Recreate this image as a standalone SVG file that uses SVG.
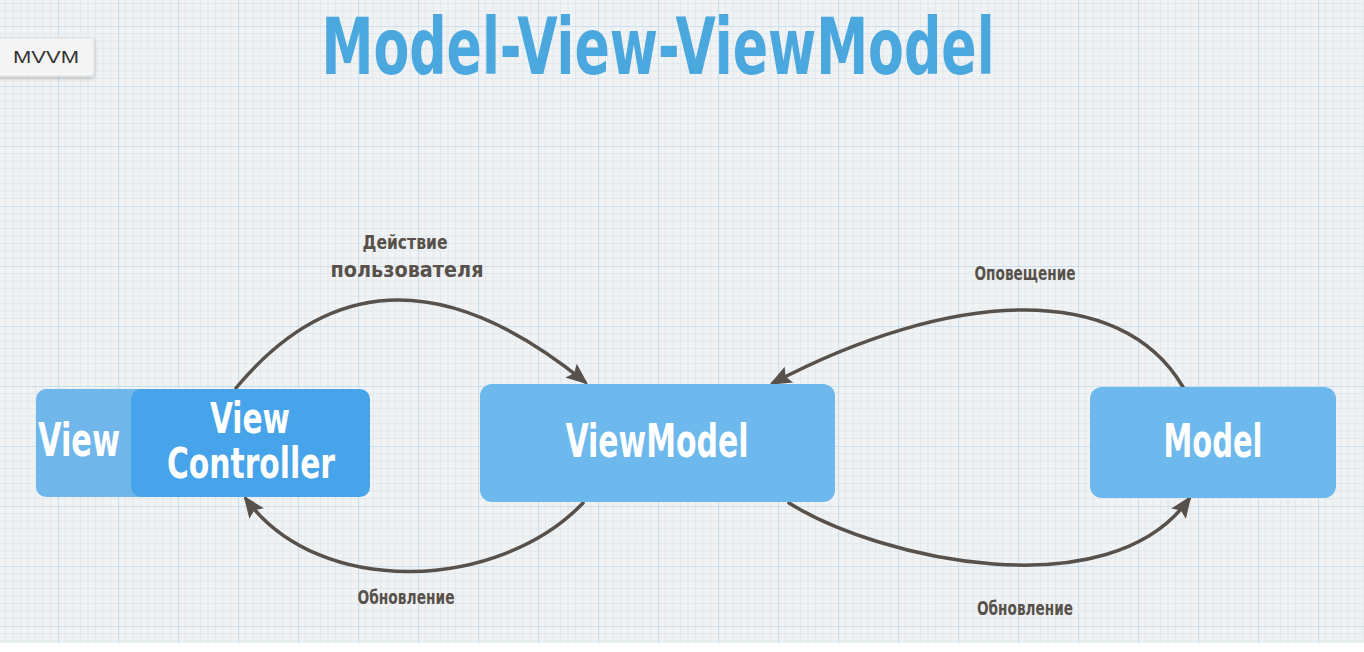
<svg xmlns="http://www.w3.org/2000/svg" width="1364" height="652" viewBox="0 0 1364 652">
  <style>
    .node-text { font-family: "Liberation Sans Narrow", "DejaVu Sans Condensed", "Liberation Sans", sans-serif; font-weight: bold; fill: #ffffff; text-anchor: middle; }
    .label { font-family: "Liberation Sans Narrow", "DejaVu Sans Condensed", "Liberation Sans", sans-serif; font-weight: bold; fill: #58514b; text-anchor: middle; }
    .conn { fill: none; stroke: #58514b; stroke-width: 3.5; stroke-linecap: round; marker-end: url(#arrow); }
  </style>
  <defs>
    <pattern id="grid" patternUnits="userSpaceOnUse" x="58" y="26" width="60" height="60">
      <rect width="60" height="60" fill="#f0f2f3"/>
      <path d="M7.5,0V60M15,0V60M22.5,0V60M30,0V60M37.5,0V60M45,0V60M52.5,0V60M0,7.5H60M0,15H60M0,22.5H60M0,30H60M0,37.5H60M0,45H60M0,52.5H60" stroke="#e1e9ee" stroke-width="1" fill="none"/>
      <path d="M0.5,0V60M0,0.5H60" stroke="#cbe0ee" stroke-width="1.2" fill="none"/>
    </pattern>
    <marker id="arrow" markerUnits="userSpaceOnUse" markerWidth="30" markerHeight="24" viewBox="-24 -12 30 24" refX="-2" refY="0" orient="auto">
      <path d="M2,0 L-20,-9 L-16,0 L-20,9 Z" fill="#58514b"/>
    </marker>
    <filter id="shadow" x="-20%" y="-30%" width="140%" height="170%">
      <feDropShadow dx="0" dy="2" stdDeviation="2" flood-color="#000" flood-opacity="0.2"/>
    </filter>
  </defs>

  <rect x="0" y="0" width="1364" height="652" fill="#ffffff"/>
  <rect x="0" y="0" width="1364" height="643" fill="url(#grid)"/>

  <text x="658" y="74" font-family="'Liberation Sans Narrow', 'DejaVu Sans Condensed', sans-serif" font-weight="bold" font-size="78" fill="#4aa8de" text-anchor="middle" textLength="673" lengthAdjust="spacingAndGlyphs">Model-View-ViewModel</text>

  <g id="mvvm-tag">
    <rect x="-6" y="38" width="100" height="38" rx="2" fill="#f5f5f5" stroke="#dddddd" stroke-width="1" filter="url(#shadow)"/>
    <text x="13" y="63" font-family="'Liberation Sans', Arial, sans-serif" font-size="17" fill="#333333" textLength="66" lengthAdjust="spacingAndGlyphs">MVVM</text>
  </g>

  <g id="connectors">
    <path class="conn" d="M236,388 Q380,215 585,382"/>
    <path class="conn" d="M1183,387 C1120,280 950,290 773,383"/>
    <path class="conn" d="M583,503 C500,590 320,600 246,499"/>
    <path class="conn" d="M789,503 C880,560 1110,610 1189,499"/>
  </g>

  <g id="view">
    <rect x="36" y="389" width="200" height="108" rx="10" fill="#6fb6ea"/>
    <text class="node-text" x="79" y="456" font-size="46" textLength="82" lengthAdjust="spacingAndGlyphs">View</text>
  </g>

  <g id="view-controller">
    <rect x="131" y="389" width="239" height="108" rx="10" fill="#47a4ea"/>
    <text class="node-text" x="250" y="433" font-size="42" textLength="80" lengthAdjust="spacingAndGlyphs">View</text>
    <text class="node-text" x="251" y="478" font-size="42" textLength="168" lengthAdjust="spacingAndGlyphs">Controller</text>
  </g>

  <g id="viewmodel">
    <rect x="480" y="384" width="355" height="118" rx="12" fill="#6db8ec"/>
    <text class="node-text" x="657" y="457" font-size="46" textLength="183" lengthAdjust="spacingAndGlyphs">ViewModel</text>
  </g>

  <g id="model">
    <rect x="1090" y="387" width="246" height="111" rx="12" fill="#6db8ec"/>
    <text class="node-text" x="1213" y="457" font-size="46" textLength="99" lengthAdjust="spacingAndGlyphs">Model</text>
  </g>

  <g id="labels">
    <text class="label" x="405" y="249" font-size="19" textLength="85" lengthAdjust="spacingAndGlyphs">Действие</text>
    <text class="label" x="407" y="277" font-size="22" textLength="153" lengthAdjust="spacingAndGlyphs">пользователя</text>
    <text class="label" x="1025" y="280" font-size="19" textLength="101" lengthAdjust="spacingAndGlyphs">Оповещение</text>
    <text class="label" x="406" y="604" font-size="19" textLength="97" lengthAdjust="spacingAndGlyphs">Обновление</text>
    <text class="label" x="1025" y="615" font-size="19" textLength="96" lengthAdjust="spacingAndGlyphs">Обновление</text>
  </g>
</svg>
